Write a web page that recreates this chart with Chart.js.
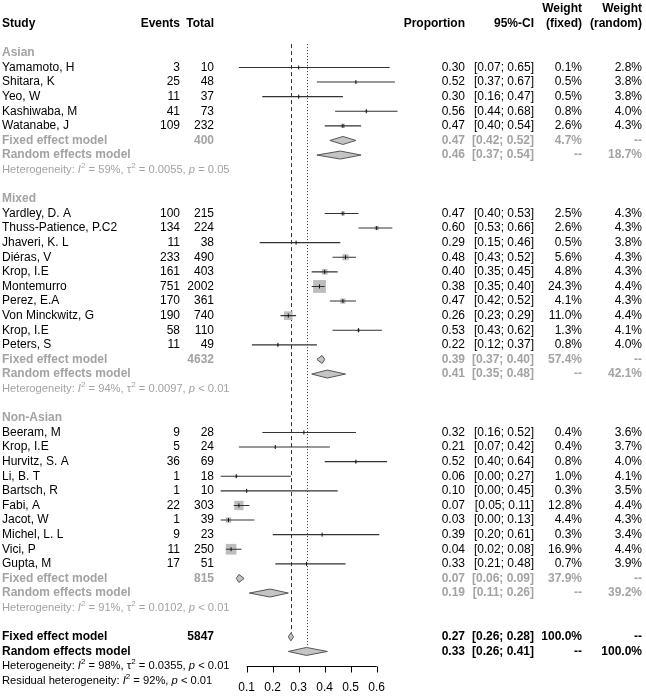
<!DOCTYPE html>
<html>
<head>
<meta charset="utf-8">
<script src="https://cdn.jsdelivr.net/npm/chart.js@4.4.0/dist/chart.umd.min.js"></script>
<style>
  html, body { margin: 0; padding: 0; background: #fff; }
  #forest { display: block; }
</style>
</head>
<body>
<canvas id="forest" width="646" height="697"></canvas>
<script>
/* data */

const groupNames = ["Asian", "Mixed", "Non-Asian"];

const studyNames = [
    "Yamamoto, H", "Shitara, K", "Yeo, W", "Kashiwaba, M", "Watanabe, J",
    "Yardley, D. A", "Thuss-Patience, P.C2", "Jhaveri, K. L", "Diéras, V", "Krop, I.E",
    "Montemurro", "Perez, E.A", "Von Minckwitz, G", "Krop, I.E", "Peters, S",
    "Beeram, M", "Krop, I.E", "Hurvitz, S. A", "Li, B. T", "Bartsch, R",
    "Fabi, A", "Jacot, W", "Michel, L. L", "Vici, P", "Gupta, M"
];
const studyGroup = [0, 0, 0, 0, 0, 1, 1, 1, 1, 1, 1, 1, 1, 1, 1, 2, 2, 2, 2, 2, 2, 2, 2, 2, 2];
const events = [3, 25, 11, 41, 109, 100, 134, 11, 233, 161, 751, 170, 190, 58, 11, 9, 5, 36, 1, 1, 22, 1, 9, 11, 17];
const totals = [10, 48, 37, 73, 232, 215, 224, 38, 490, 403, 2002, 361, 740, 110, 49, 28, 24, 69, 18, 10, 303, 39, 23, 250, 51];
const proportion = [0.30, 0.52, 0.30, 0.56, 0.47, 0.47, 0.60, 0.29, 0.48, 0.40, 0.38, 0.47, 0.26, 0.53, 0.22,
    0.32, 0.21, 0.52, 0.06, 0.10, 0.07, 0.03, 0.39, 0.04, 0.33];
const ciLower = [0.07, 0.37, 0.16, 0.44, 0.40, 0.40, 0.53, 0.15, 0.43, 0.35, 0.35, 0.42, 0.23, 0.43, 0.12,
    0.16, 0.07, 0.40, 0.00, 0.00, 0.05, 0.00, 0.20, 0.02, 0.21];
const ciUpper = [0.65, 0.67, 0.47, 0.68, 0.54, 0.53, 0.66, 0.46, 0.52, 0.45, 0.40, 0.52, 0.29, 0.62, 0.37,
    0.52, 0.42, 0.64, 0.27, 0.45, 0.11, 0.13, 0.61, 0.08, 0.48];
const weightFixed = [0.1, 0.5, 0.5, 0.8, 2.6, 2.5, 2.6, 0.5, 5.6, 4.8, 24.3, 4.1, 11.0, 1.3, 0.8,
    0.4, 0.4, 0.8, 1.0, 0.3, 12.8, 4.4, 0.3, 16.9, 0.7];
const weightRandom = [2.8, 3.8, 3.8, 4.0, 4.3, 4.3, 4.3, 3.8, 4.3, 4.3, 4.4, 4.3, 4.4, 4.1, 4.0,
    3.6, 3.7, 4.0, 4.1, 3.5, 4.4, 4.3, 3.4, 4.4, 3.9];

// subgroup summaries
const groupTotals = [400, 4632, 815];
const fixedEst = [0.47, 0.39, 0.07];
const fixedLower = [0.42, 0.37, 0.06];
const fixedUpper = [0.52, 0.40, 0.09];
const fixedWeight = [4.7, 57.4, 37.9];
const randomEst = [0.46, 0.41, 0.19];
const randomLower = [0.37, 0.35, 0.11];
const randomUpper = [0.54, 0.48, 0.26];
const randomWeight = [18.7, 42.1, 39.2];
const hetI2 = [59, 94, 91];
const hetTau2 = ["0.0055", "0.0097", "0.0102"];
const hetP = ["= 0.05", "< 0.01", "< 0.01"];

// overall
const overallTotal = 5847;
const overallFixed = [0.27, 0.26, 0.28];
const overallRandom = [0.33, 0.26, 0.41];
const overallI2 = 98;
const overallTau2 = "0.0355";
const overallP = "< 0.01";
const residualI2 = 92;
const residualP = "< 0.01";

const tickValues = [0.1, 0.2, 0.3, 0.4, 0.5, 0.6];
const tickLabels = ["0.1", "0.2", "0.3", "0.4", "0.5", "0.6"];

/* layout of rows */
const FONT = '"Liberation Sans", Arial, sans-serif';
const GREY = "#a3a3a3";

let rows = [];   // {type, ...}
let studyRow = [];
let r = 2;
groupNames.forEach((g, gi) => {
    rows.push({ type: "group", row: r++, g: gi });
    studyNames.forEach((s, i) => {
        if (studyGroup[i] === gi) { studyRow[i] = r; rows.push({ type: "study", row: r++, i: i }); }
    });
    rows.push({ type: "gfixed", row: r++, g: gi });
    rows.push({ type: "grandom", row: r++, g: gi });
    rows.push({ type: "ghet", row: r++, g: gi });
    r++;
});
const overallFixedRow = r++;
const overallRandomRow = r++;
const overallHetRow = r++;
const residualRow = r++;

function pct(v) { return v.toFixed(1) + "%"; }
function ci(lo, hi) { return "[" + lo.toFixed(2) + "; " + hi.toFixed(2) + "]"; }

// datasets built from the arrays
const ciPoints = [];
studyNames.forEach((s, i) => {
    ciPoints.push({ x: ciLower[i], y: studyRow[i] });
    ciPoints.push({ x: ciUpper[i], y: studyRow[i] });
    ciPoints.push({ x: NaN, y: NaN });
});
const estPoints = studyNames.map((s, i) => ({ x: proportion[i], y: studyRow[i] }));
const squareRadius = weightFixed.map(w => 2.6 * Math.sqrt(w) / Math.SQRT2);

function text(ctx, t, x, y, align, bold, color, size) {
    ctx.font = (bold ? "bold " : "") + (size || 12) + "px " + FONT;
    ctx.textAlign = align;
    ctx.fillStyle = color;
    ctx.fillText(t, x, y);
}

function richText(ctx, parts, x, y, size, color) {
    let cx = x;
    ctx.textAlign = "left";
    ctx.fillStyle = color;
    parts.forEach(p => {
        const s = p.sup ? Math.round(size * 0.72) : size;
        ctx.font = (p.italic ? "italic " : "") + s + "px " + FONT;
        ctx.fillText(p.t, cx, y - (p.sup ? size * 0.38 : 0));
        cx += ctx.measureText(p.t).width;
    });
}

function hetParts(i2, tau2, p, prefix) {
    const parts = [{ t: prefix }, { t: "I", italic: true }, { t: "2", sup: true }, { t: " = " + i2 + "%, " }];
    if (tau2 !== null) {
        parts.push({ t: "τ" }, { t: "2", sup: true }, { t: " = " + tau2 + ", " });
    }
    parts.push({ t: "p", italic: true }, { t: " " + p });
    return parts;
}

const forestPlugin = {
    id: "forest",
    beforeDatasetsDraw(chart) {
        const ctx = chart.ctx, xs = chart.scales.x, ys = chart.scales.y;
        ctx.save();
        ctx.strokeStyle = "#333";
        ctx.lineWidth = 1;
        // fixed effect reference line
        ctx.setLineDash([4, 3]);
        ctx.beginPath();
        let x = Math.round(xs.getPixelForValue(overallFixed[0])) + 0.5;
        ctx.moveTo(x, ys.getPixelForValue(1.4));
        ctx.lineTo(x, ys.getPixelForValue(overallFixedRow) - 4);
        ctx.stroke();
        // random effects reference line
        ctx.setLineDash([1, 2]);
        ctx.beginPath();
        x = Math.round(xs.getPixelForValue(overallRandom[0])) + 0.5;
        ctx.moveTo(x, ys.getPixelForValue(1.4));
        ctx.lineTo(x, ys.getPixelForValue(overallRandomRow) - 4);
        ctx.stroke();
        ctx.restore();
    },
    afterDatasetsDraw(chart) {
        const ctx = chart.ctx, xs = chart.scales.x, ys = chart.scales.y;
        function diamond(est, lo, hi, row) {
            const y = ys.getPixelForValue(row);
            ctx.beginPath();
            ctx.moveTo(xs.getPixelForValue(lo), y);
            ctx.lineTo(xs.getPixelForValue(est), y - 4);
            ctx.lineTo(xs.getPixelForValue(hi), y);
            ctx.lineTo(xs.getPixelForValue(est), y + 4);
            ctx.closePath();
            ctx.fill();
            ctx.stroke();
        }
        ctx.save();
        ctx.fillStyle = "#c4c4c4";
        ctx.strokeStyle = "#555";
        ctx.lineWidth = 1;
        rows.forEach(rw => {
            if (rw.type === "gfixed") diamond(fixedEst[rw.g], fixedLower[rw.g], fixedUpper[rw.g], rw.row);
            if (rw.type === "grandom") diamond(randomEst[rw.g], randomLower[rw.g], randomUpper[rw.g], rw.row);
        });
        diamond(overallFixed[0], overallFixed[1], overallFixed[2], overallFixedRow);
        diamond(overallRandom[0], overallRandom[1], overallRandom[2], overallRandomRow);

        // x axis, only across the tick range
        const axisY = 666.5;
        ctx.strokeStyle = "#000";
        ctx.beginPath();
        ctx.moveTo(xs.getPixelForValue(tickValues[0]), axisY);
        ctx.lineTo(xs.getPixelForValue(tickValues[tickValues.length - 1]), axisY);
        tickValues.forEach(v => {
            const tx = Math.round(xs.getPixelForValue(v)) + 0.5;
            ctx.moveTo(tx, axisY);
            ctx.lineTo(tx, axisY + 6);
        });
        ctx.stroke();
        ctx.textBaseline = "middle";
        tickValues.forEach((v, i) => text(ctx, tickLabels[i], xs.getPixelForValue(v), 688, "center", false, "#000"));
        ctx.restore();
    },
    afterDraw(chart) {
        const ctx = chart.ctx, ys = chart.scales.y;
        const colStudy = 2, colEvents = 180, colTotal = 214, colProp = 465, colCI = 534, colWF = 582, colWR = 642;
        ctx.save();
        ctx.textBaseline = "middle";
        const y0 = ys.getPixelForValue(0);
        text(ctx, "Study", colStudy, y0, "left", true, "#000");
        text(ctx, "Events", colEvents, y0, "right", true, "#000");
        text(ctx, "Total", colTotal, y0, "right", true, "#000");
        text(ctx, "Proportion", colProp, y0, "right", true, "#000");
        text(ctx, "95%-CI", colCI, y0, "right", true, "#000");
        text(ctx, "Weight", colWF, y0 - 15, "right", true, "#000");
        text(ctx, "(fixed)", colWF, y0, "right", true, "#000");
        text(ctx, "Weight", colWR, y0 - 15, "right", true, "#000");
        text(ctx, "(random)", colWR, y0, "right", true, "#000");

        rows.forEach(rw => {
            const y = ys.getPixelForValue(rw.row);
            if (rw.type === "group") {
                text(ctx, groupNames[rw.g], colStudy, y, "left", true, GREY);
            } else if (rw.type === "study") {
                const i = rw.i;
                text(ctx, studyNames[i], colStudy, y, "left", false, "#000");
                text(ctx, String(events[i]), colEvents, y, "right", false, "#000");
                text(ctx, String(totals[i]), colTotal, y, "right", false, "#000");
                text(ctx, proportion[i].toFixed(2), colProp, y, "right", false, "#000");
                text(ctx, ci(ciLower[i], ciUpper[i]), colCI, y, "right", false, "#000");
                text(ctx, pct(weightFixed[i]), colWF, y, "right", false, "#000");
                text(ctx, pct(weightRandom[i]), colWR, y, "right", false, "#000");
            } else if (rw.type === "gfixed") {
                const g = rw.g;
                text(ctx, "Fixed effect model", colStudy, y, "left", true, GREY);
                text(ctx, String(groupTotals[g]), colTotal, y, "right", true, GREY);
                text(ctx, fixedEst[g].toFixed(2), colProp, y, "right", true, GREY);
                text(ctx, ci(fixedLower[g], fixedUpper[g]), colCI, y, "right", true, GREY);
                text(ctx, pct(fixedWeight[g]), colWF, y, "right", true, GREY);
                text(ctx, "--", colWR, y, "right", true, GREY);
            } else if (rw.type === "grandom") {
                const g = rw.g;
                text(ctx, "Random effects model", colStudy, y, "left", true, GREY);
                text(ctx, randomEst[g].toFixed(2), colProp, y, "right", true, GREY);
                text(ctx, ci(randomLower[g], randomUpper[g]), colCI, y, "right", true, GREY);
                text(ctx, "--", colWF, y, "right", true, GREY);
                text(ctx, pct(randomWeight[g]), colWR, y, "right", true, GREY);
            } else if (rw.type === "ghet") {
                richText(ctx, hetParts(hetI2[rw.g], hetTau2[rw.g], hetP[rw.g], "Heterogeneity: "), colStudy, y, 11.2, GREY);
            }
        });

        let y = ys.getPixelForValue(overallFixedRow);
        text(ctx, "Fixed effect model", colStudy, y, "left", true, "#000");
        text(ctx, String(overallTotal), colTotal, y, "right", true, "#000");
        text(ctx, overallFixed[0].toFixed(2), colProp, y, "right", true, "#000");
        text(ctx, ci(overallFixed[1], overallFixed[2]), colCI, y, "right", true, "#000");
        text(ctx, pct(100), colWF, y, "right", true, "#000");
        text(ctx, "--", colWR, y, "right", true, "#000");
        y = ys.getPixelForValue(overallRandomRow);
        text(ctx, "Random effects model", colStudy, y, "left", true, "#000");
        text(ctx, overallRandom[0].toFixed(2), colProp, y, "right", true, "#000");
        text(ctx, ci(overallRandom[1], overallRandom[2]), colCI, y, "right", true, "#000");
        text(ctx, "--", colWF, y, "right", true, "#000");
        text(ctx, pct(100), colWR, y, "right", true, "#000");
        richText(ctx, hetParts(overallI2, overallTau2, overallP, "Heterogeneity: "), colStudy, ys.getPixelForValue(overallHetRow), 11.2, "#000");
        richText(ctx, hetParts(residualI2, null, residualP, "Residual heterogeneity: "), colStudy, ys.getPixelForValue(residualRow), 11.2, "#000");
        ctx.restore();
    }
};

const config = {
    type: "scatter",
    data: {
        datasets: [
            {   // small black mark at each estimate
                data: estPoints,
                pointStyle: "line",
                rotation: 90,
                pointRadius: 2,
                borderColor: "#111",
                borderWidth: 1,
                order: 0
            },
            {   // confidence intervals
                data: ciPoints,
                showLine: true,
                spanGaps: false,
                pointRadius: 0,
                borderColor: "#333",
                borderWidth: 1.1,
                order: 1
            },
            {   // squares sized by fixed weight
                data: estPoints,
                pointStyle: "rect",
                pointRadius: squareRadius,
                backgroundColor: "#bdbdbd",
                borderWidth: 0,
                order: 2
            }
        ]
    },
    options: {
        responsive: false,
        animation: false,
        events: [],
        clip: false,
        layout: { padding: { left: 220.7, right: 243.3, top: 7.2, bottom: 1.6 } },
        scales: {
            x: { type: "linear", min: 0, max: 0.7, display: false },
            y: { type: "linear", min: -1, max: 45.5, reverse: true, display: false }
        },
        plugins: { legend: { display: false }, tooltip: { enabled: false } }
    },
    plugins: [forestPlugin]
};

const forestChart = new Chart(document.getElementById("forest").getContext("2d"), config);
</script>
</body>
</html>
